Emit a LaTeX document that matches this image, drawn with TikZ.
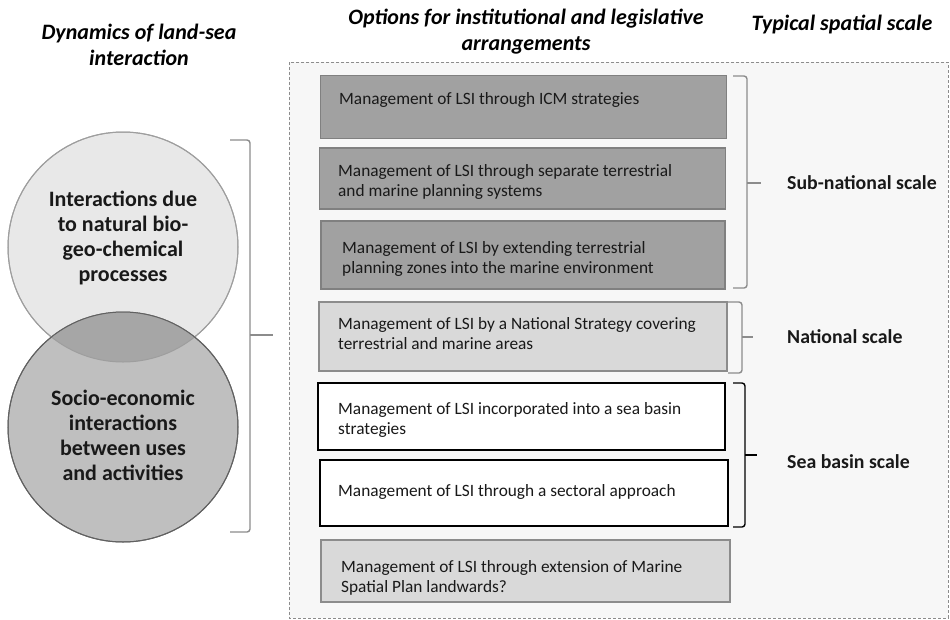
\documentclass[tikz,border=0pt]{standalone}
\usepackage{fontspec}
\setmainfont{Carlito}
\begin{document}
\begin{tikzpicture}[x=1pt,y=-1pt,
  darkbox/.style={draw=black!50, line width=1.6pt, fill=black!37},
  lightbox/.style={draw=black!45, line width=1.6pt, fill=black!15},
  whitebox/.style={draw=black, line width=1.8pt, fill=white},
  boxtext/.style={anchor=north west, inner sep=0pt, align=left, font=\fontsize{17.3}{20.5}\selectfont, text=black!90},
  head/.style={align=center, inner sep=0pt, font=\fontsize{22}{25.5}\selectfont\bfseries\itshape},
  circtext/.style={align=center, inner sep=0pt, font=\fontsize{22}{25}\selectfont\bfseries, text=black!90},
  scalelabel/.style={anchor=west, inner sep=0pt, font=\fontsize{19.8}{22}\selectfont\bfseries, text=black!90},
  graybrace/.style={draw=black!45, line width=1.4pt, rounded corners=3pt},
  blackbrace/.style={draw=black, line width=1.4pt, rounded corners=3pt}]
\useasboundingbox (0,0) rectangle (950,619);
\fill[white] (0,0) rectangle (950,619);

% headers
\node[head] (h1) at (139,45) {Dynamics of land-sea\\interaction};
\node[head] (h2) at (526,31.5) {Options for institutional and legislative\\arrangements};
\node[head] (h3) at (842,25) {Typical spatial scale};

% dashed frame
\draw[draw=black!45, line width=0.8pt, dash pattern=on 3pt off 2pt, fill=black!3] (289,62) rectangle (948,618);

% circles
\node[circle, minimum size=230pt, inner sep=0pt, draw=black!38, line width=1pt, fill=black!9] (c1) at (123,247) {};
\node[circle, minimum size=230pt, inner sep=0pt, draw=black!62, line width=1pt, fill=black!25] (c2) at (123,427) {};
\begin{scope}
  \clip (123,247) circle (115pt);
  \fill[black!35] (123,427) circle (115pt);
\end{scope}
\draw[black!38, line width=1pt] (123,247) circle (115pt);
\draw[black!62, line width=1pt] (123,427) circle (115pt);
\node[circtext] (t1) at (123,238) {Interactions due\\to natural bio-\\geo-chemical\\processes};
\node[circtext] (t2) at (123,435) {Socio-economic\\interactions\\between uses\\and activities};

% left brace
\coordinate (lb1) at (230,140);
\coordinate (lb2) at (230,532);
\coordinate (lbt) at (273,335);
\draw[graybrace] (lb1) -- (250,140) -- (250,532) -- (lb2);
\draw[draw=black!45, line width=1.4pt] (250,335) -- (lbt);

% boxes
\node[darkbox, minimum width=406pt, minimum height=63pt, inner sep=0pt] (b1) at (523.5,107) {};
\node[darkbox, minimum width=406pt, minimum height=61pt, inner sep=0pt] (b2) at (522.5,178.5) {};
\node[darkbox, minimum width=404pt, minimum height=68pt, inner sep=0pt] (b3) at (523,255) {};
\node[lightbox, minimum width=408pt, minimum height=69pt, inner sep=0pt] (b4) at (523,336.5) {};
\node[whitebox, minimum width=407pt, minimum height=67pt, inner sep=0pt] (b5) at (521.5,416.5) {};
\node[whitebox, minimum width=408pt, minimum height=66pt, inner sep=0pt] (b6) at (524,493) {};
\node[lightbox, minimum width=409pt, minimum height=62pt, inner sep=0pt] (b7) at (525.5,571) {};

\node[boxtext] (bt1) at (339,92) {Management of LSI through ICM strategies};
\node[boxtext] (bt2) at (338,164) {Management of LSI through separate terrestrial\\and marine planning systems};
\node[boxtext] (bt3) at (342,241) {Management of LSI by extending terrestrial\\planning zones into the marine environment};
\node[boxtext] (bt4) at (338,317) {Management of LSI by a National Strategy covering\\terrestrial and marine areas};
\node[boxtext] (bt5) at (338,402) {Management of LSI incorporated into a sea basin\\strategies};
\node[boxtext] (bt6) at (338,484) {Management of LSI through a sectoral approach};
\node[boxtext] (bt7) at (341,560) {Management of LSI through extension of Marine\\Spatial Plan landwards?};

% right braces
\draw[graybrace] (733,76) -- (747,76) -- (747,288) -- (733,288);
\draw[draw=black!45, line width=1.4pt] (747,183) -- (761,183);
\draw[graybrace] (728,302) -- (742,302) -- (742,373) -- (728,373);
\draw[draw=black!45, line width=1.4pt] (742,337) -- (753,337);
\draw[blackbrace] (733,383) -- (745,383) -- (745,527) -- (733,527);
\draw[draw=black, line width=1.4pt] (745,455) -- (757,455);

\node[scalelabel] (s1) at (787,183) {Sub-national scale};
\node[scalelabel] (s2) at (787,337) {National scale};
\node[scalelabel] (s3) at (787,462) {Sea basin scale};
\end{tikzpicture}
\end{document}
